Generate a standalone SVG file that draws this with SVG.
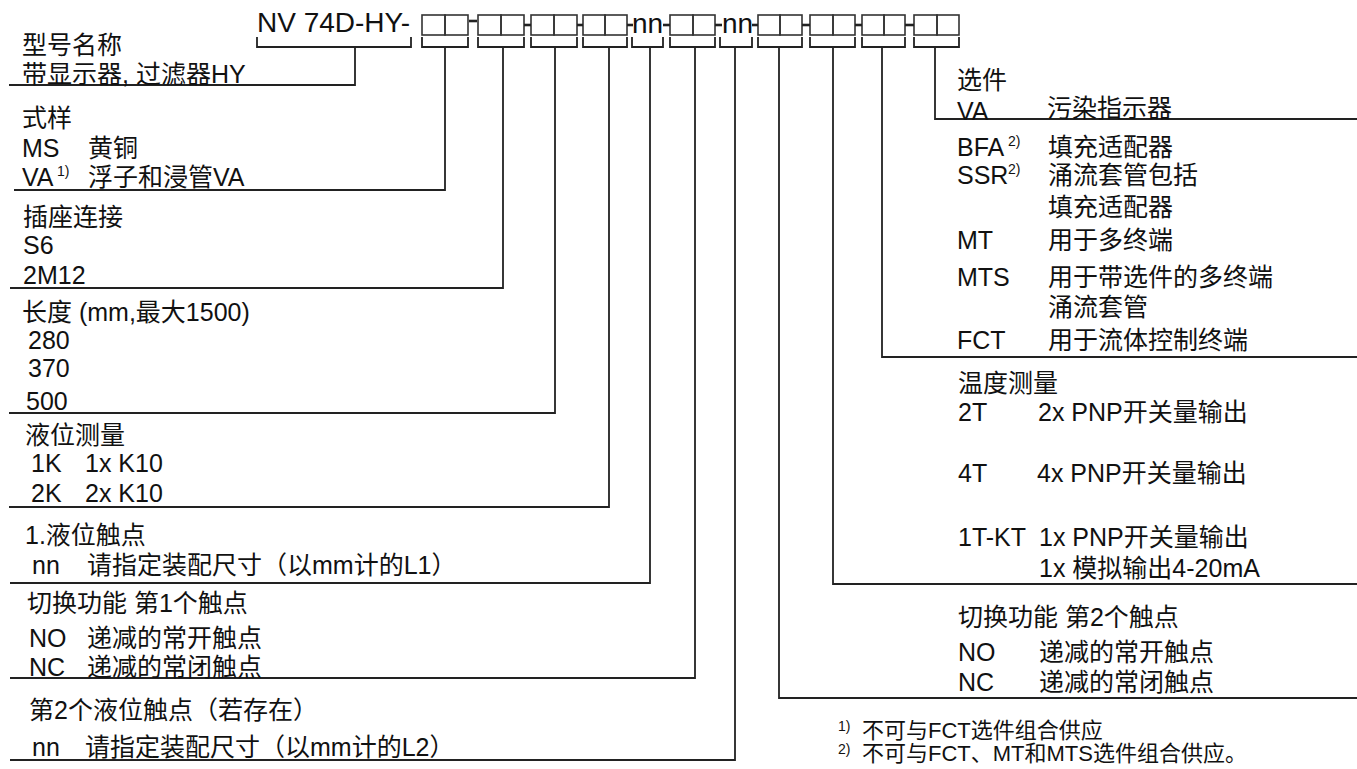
<svg xmlns="http://www.w3.org/2000/svg" width="1357" height="769" viewBox="0 0 1357 769">
<style>
.t{font-family:"Liberation Sans","Noto Sans CJK SC",sans-serif;font-size:25px;fill:#111}
.f{font-family:"Liberation Sans","Noto Sans CJK SC",sans-serif;font-size:22px;fill:#111}
.s{font-family:"Liberation Sans",sans-serif;font-size:14px;fill:#111}
.c{font-family:"Liberation Sans",sans-serif;font-size:28px;fill:#111}
.bx{fill:none;stroke:#333;stroke-width:1.6}
.ln{fill:none;stroke:#222;stroke-width:1.8}
.dash{stroke:#222;stroke-width:2.6}
</style>
<rect width="1357" height="769" fill="#fff"/>
<g id="code">
<text class="c" x="257" y="32">NV 74D-HY-</text>
<g class="bx">
<rect x="422" y="15" width="23" height="20"/><rect x="445" y="15" width="23" height="20"/>
<rect x="478" y="15" width="23" height="20"/><rect x="501" y="15" width="23" height="20"/>
<rect x="531" y="15" width="23" height="20"/><rect x="554" y="15" width="23" height="20"/>
<rect x="583" y="15" width="22" height="20"/><rect x="605" y="15" width="22" height="20"/>
<rect x="670" y="15" width="23" height="20"/><rect x="693" y="15" width="22" height="20"/>
<rect x="758" y="15" width="22" height="20"/><rect x="780" y="15" width="22" height="20"/>
<rect x="810" y="15" width="23" height="20"/><rect x="833" y="15" width="22" height="20"/>
<rect x="862" y="15" width="22" height="20"/><rect x="884" y="15" width="21" height="20"/>
<rect x="914" y="15" width="23" height="20"/><rect x="937" y="15" width="22" height="20"/>
</g>
<text class="c" x="632" y="33">nn</text>
<text class="c" x="722" y="33">nn</text>
<g class="dash">
<line x1="469" y1="21" x2="477" y2="21"/>
<line x1="524" y1="25" x2="531" y2="25"/>
<line x1="577" y1="25" x2="583" y2="25"/>
<line x1="627" y1="25" x2="633" y2="25"/>
<line x1="663" y1="25" x2="670" y2="25"/>
<line x1="715" y1="25" x2="722" y2="25"/>
<line x1="752" y1="25" x2="758" y2="25"/>
<line x1="802" y1="25" x2="810" y2="25"/>
<line x1="855" y1="25" x2="862" y2="25"/>
<line x1="905" y1="25" x2="914" y2="25"/>
</g>
</g>
<g id="connectors" class="ln">
<path d="M257 37V47H411V37M355 47V85H9"/>
<path d="M422 37V47H468V37M445 47V190H14"/>
<path d="M478 37V47H524V37M503 47V288H10"/>
<path d="M531 37V47H577V37M555 47V413H9"/>
<path d="M583 37V47H627V37M609 47V507H9"/>
<path d="M632 37V47H663V37M650 47V583H10"/>
<path d="M670 37V47H715V37M695 47V678H10"/>
<path d="M720 37V47H752V37M735 47V760H10"/>
<path d="M758 37V47H802V37M779 47V698H1357"/>
<path d="M810 37V47H855V37M833 47V584H1357"/>
<path d="M862 37V47H905V37M882 47V357H1357"/>
<path d="M914 37V47H959V37M935 47V119H1357"/>
</g>
<g id="type-name">
<text class="t" x="22" y="54">型号名称</text>
<text class="t" x="22" y="83">带显示器, 过滤器HY</text>
</g>
<g id="design">
<text class="t" x="22" y="127">式样</text>
<text class="t" x="22" y="157">MS</text><text class="t" x="88" y="157">黄铜</text>
<text class="t" x="22" y="186">VA</text><text class="s" x="57" y="176">1)</text><text class="t" x="88" y="186">浮子和浸管VA</text>
</g>
<g id="socket">
<text class="t" x="23" y="226">插座连接</text>
<text class="t" x="23" y="254">S6</text>
<text class="t" x="23" y="284">2M12</text>
</g>
<g id="length">
<text class="t" x="22" y="321">长度 (mm,最大1500)</text>
<text class="t" x="28" y="349">280</text>
<text class="t" x="28" y="377">370</text>
<text class="t" x="26" y="410">500</text>
</g>
<g id="level">
<text class="t" x="25" y="444">液位测量</text>
<text class="t" x="31" y="472">1K</text><text class="t" x="85" y="472">1x K10</text>
<text class="t" x="31" y="502">2K</text><text class="t" x="85" y="502">2x K10</text>
</g>
<g id="contact1">
<text class="t" x="25" y="544">1.液位触点</text>
<text class="t" x="32" y="574">nn</text><text class="t" x="87" y="574">请指定装配尺寸（以mm计的L1）</text>
</g>
<g id="switch1">
<text class="t" x="27" y="612">切换功能 第1个触点</text>
<text class="t" x="29" y="647">NO</text><text class="t" x="87" y="647">递减的常开触点</text>
<text class="t" x="29" y="676">NC</text><text class="t" x="87" y="676">递减的常闭触点</text>
</g>
<g id="contact2">
<text class="t" x="29" y="719">第2个液位触点（若存在）</text>
<text class="t" x="32" y="756">nn</text><text class="t" x="85" y="756">请指定装配尺寸（以mm计的L2）</text>
</g>
<g id="options">
<text class="t" x="957" y="89">选件</text>
<text class="t" x="957" y="120">VA</text><text class="t" x="1047" y="117">污染指示器</text>
<text class="t" x="957" y="156">BFA</text><text class="s" x="1008" y="146">2)</text><text class="t" x="1048" y="156">填充适配器</text>
<text class="t" x="957" y="184">SSR</text><text class="s" x="1008" y="174">2)</text><text class="t" x="1048" y="184">涌流套管包括</text>
<text class="t" x="1048" y="216">填充适配器</text>
<text class="t" x="957" y="249">MT</text><text class="t" x="1048" y="249">用于多终端</text>
<text class="t" x="957" y="286">MTS</text><text class="t" x="1048" y="286">用于带选件的多终端</text>
<text class="t" x="1048" y="316">涌流套管</text>
<text class="t" x="957" y="349">FCT</text><text class="t" x="1048" y="349">用于流体控制终端</text>
</g>
<g id="temperature">
<text class="t" x="958" y="392">温度测量</text>
<text class="t" x="958" y="421">2T</text><text class="t" x="1038" y="421">2x PNP开关量输出</text>
<text class="t" x="958" y="482">4T</text><text class="t" x="1037" y="482">4x PNP开关量输出</text>
<text class="t" x="958" y="546">1T-KT</text><text class="t" x="1039" y="546">1x PNP开关量输出</text>
<text class="t" x="1039" y="577">1x 模拟输出4-20mA</text>
</g>
<g id="switch2">
<text class="t" x="958" y="626">切换功能 第2个触点</text>
<text class="t" x="958" y="661">NO</text><text class="t" x="1039" y="661">递减的常开触点</text>
<text class="t" x="958" y="691">NC</text><text class="t" x="1039" y="691">递减的常闭触点</text>
</g>
<g id="footnotes">
<text class="s" x="838" y="731">1)</text><text class="f" x="862" y="738">不可与FCT选件组合供应</text>
<text class="s" x="838" y="754">2)</text><text class="f" x="862" y="761">不可与FCT、MT和MTS选件组合供应。</text>
</g>
</svg>
